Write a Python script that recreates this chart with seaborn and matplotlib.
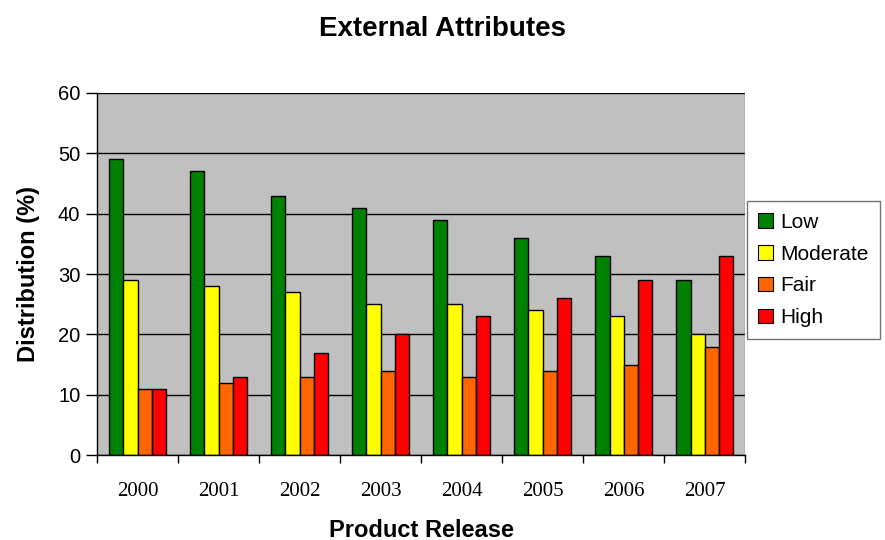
import matplotlib
matplotlib.use("Agg")
import matplotlib.pyplot as plt
import seaborn as sns
import pandas as pd
import numpy as np

# Distribution of external attribute ratings per product release
releases = ["2000", "2001", "2002", "2003", "2004", "2005", "2006", "2007"]
levels = ["Low", "Moderate", "Fair", "High"]
low = [49, 47, 43, 41, 39, 36, 33, 29]
moderate = [29, 28, 27, 25, 25, 24, 23, 20]
fair = [11, 12, 13, 14, 13, 14, 15, 18]
high = [11, 13, 17, 20, 23, 26, 29, 33]
colors = ["#008000", "#FFFF00", "#FF6600", "#FF0000"]

df = pd.DataFrame({
    "Release": releases * 4,
    "Level": sum([[lv] * len(releases) for lv in levels], []),
    "Value": low + moderate + fair + high,
})

sns.set_style("white")
plt.rcParams["font.family"] = ["Liberation Sans", "DejaVu Sans"]
plt.rcParams["text.color"] = "black"
plt.rcParams["axes.labelcolor"] = "black"
plt.rcParams["xtick.color"] = "black"
plt.rcParams["ytick.color"] = "black"

fig = plt.figure(figsize=(8.85, 5.4), dpi=100)
ax = fig.add_axes([0.1096, 0.157, 0.7325, 0.671])
ax.set_facecolor("#C0C0C0")

sns.barplot(data=df, x="Release", y="Value", hue="Level", hue_order=levels,
            order=releases, palette=colors, width=0.7, edgecolor="black",
            linewidth=1.0, saturation=1, ax=ax, legend=True)

ax.set_ylim(0, 60)
ax.set_xlim(-0.5, len(releases) - 0.5)
ax.set_yticks(np.arange(0, 61, 10))
ax.yaxis.grid(True, color="black", linewidth=1.0)
ax.set_axisbelow(True)

for side in ["top", "right"]:
    ax.spines[side].set_visible(False)
ax.spines["left"].set_color("black")
ax.spines["bottom"].set_color("black")
ax.spines["left"].set_linewidth(1.0)
ax.spines["bottom"].set_linewidth(1.0)
ax.axvline(len(releases) - 0.5, color="#808080", linewidth=1.0)

ax.tick_params(axis="y", direction="out", length=8, width=1, color="black",
               labelsize=14.5, pad=4, left=True, labelcolor="black")
ax.set_xticks(np.arange(len(releases)))
ax.set_xticklabels(releases, fontfamily="Liberation Serif", fontsize=15)
ax.tick_params(axis="x", which="major", length=0, pad=19, labelcolor="black")
ax.set_xticks(np.arange(-0.5, len(releases)), minor=True)
ax.tick_params(axis="x", which="minor", direction="out", length=6, width=1,
               color="black", bottom=True)

ax.set_xlabel("Product Release", fontsize=17, fontweight="bold", labelpad=13,
              color="black")
ax.set_ylabel("Distribution (%)", fontsize=17, fontweight="bold", labelpad=13,
              color="black")
fig.suptitle("External Attributes", fontsize=20, fontweight="bold", y=0.97,
             color="black")

leg = ax.legend(loc="center left", bbox_to_anchor=(0.844, 0.5, 0.153, 0.0),
                bbox_transform=fig.transFigure, frameon=True, fancybox=False,
                edgecolor="#505050", fontsize=15, handlelength=0.7,
                handleheight=0.7, handletextpad=0.35, labelspacing=0.62,
                borderpad=0.55, borderaxespad=0)
leg.get_frame().set_linewidth(1.0)
for t in leg.get_texts():
    t.set_color("black")
for h in leg.legend_handles:
    h.set_edgecolor("black")
    h.set_linewidth(0.8)

fig.savefig("out.png", dpi=100, facecolor="white")
